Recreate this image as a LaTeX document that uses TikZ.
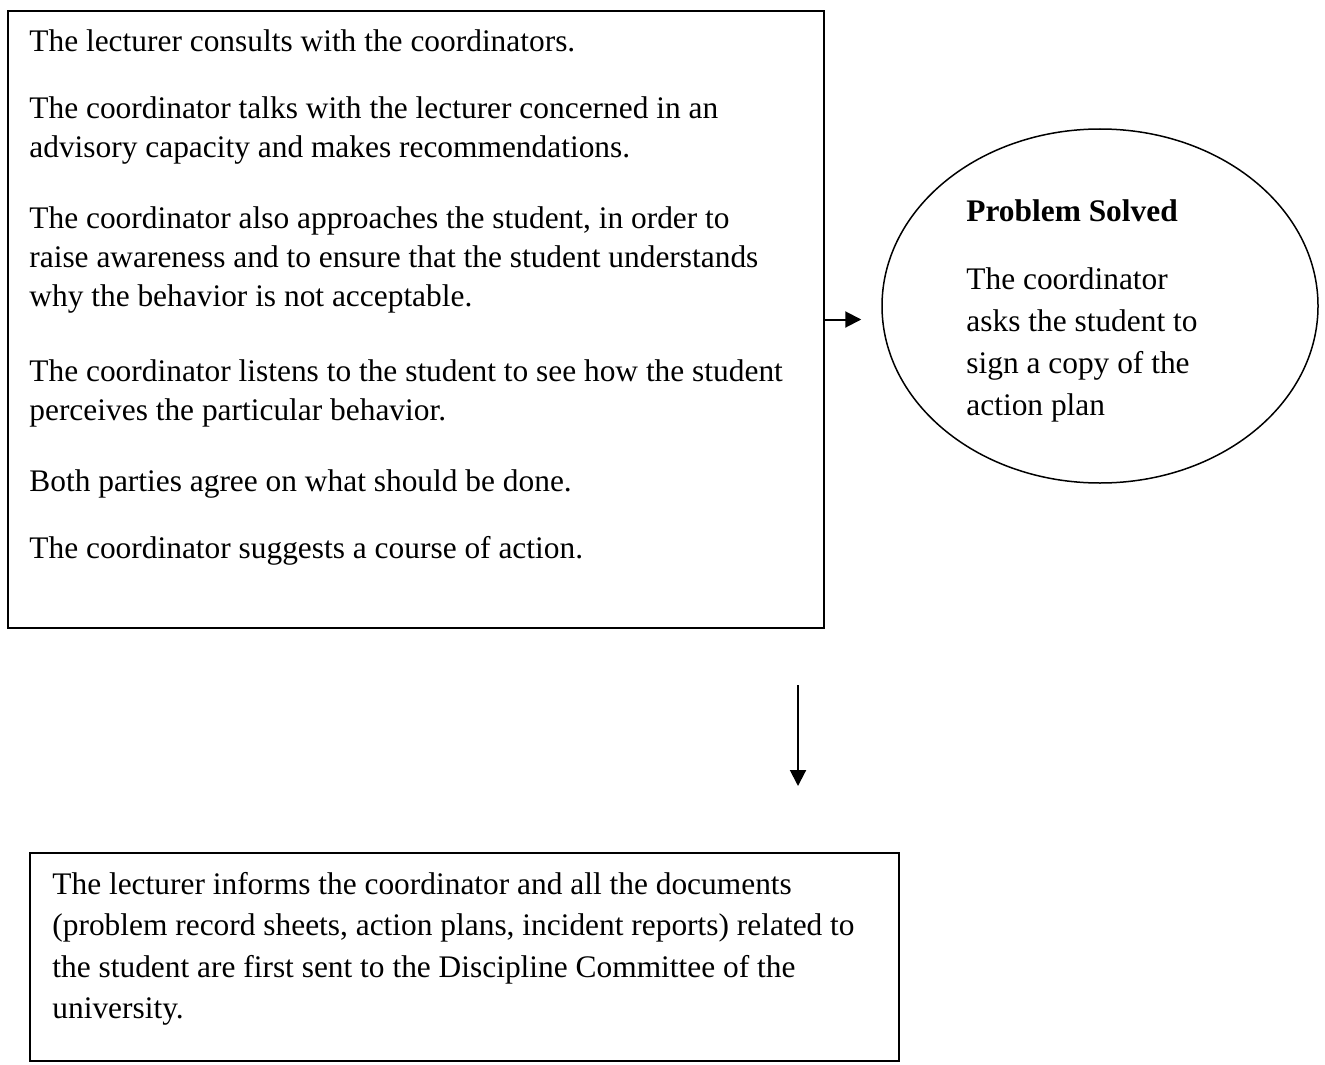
\documentclass[tikz,border=0pt]{standalone}
\usepackage{fontspec}
\setmainfont{Liberation Serif}
\usetikzlibrary{calc}
\usetikzlibrary{positioning}
\usetikzlibrary{shapes.geometric,arrows.meta}

\begin{document}
\begin{tikzpicture}[x=0.5pt, y=-0.5pt,
    flow/.style={line width=1pt, -{Triangle[width=8pt,length=8pt]}}]
  \useasboundingbox (0,0) rectangle (1325,1064);

  \begin{scope}[every node/.style={draw, line width=1pt, rectangle, inner sep=0pt, anchor=north west}]
    \node [minimum width=408pt, minimum height=308.5pt] (talk) at (7,10) {};
    \node [minimum width=434.5pt, minimum height=104pt] (refer) at (29,852) {};
  \end{scope}

  \node [draw, ellipse, line width=0.75pt, minimum width=218pt, minimum height=177pt, inner sep=0pt] (solved) at (1100,306) {};

  \begin{scope}[every node/.style={align=left, inner sep=0pt, anchor=north west}]
    \node [font=\fontsize{15.7}{19.5}\selectfont] (talktext) at ([shift={(22,19)}]talk.north west)
      {The lecturer consults with the coordinators.\\[14pt]
       The coordinator talks with the lecturer concerned in an\\
       advisory capacity and makes recommendations.\\[16pt]
       The coordinator also approaches the student, in order to\\
       raise awareness and to ensure that the student understands\\
       why the behavior is not acceptable.\\[18pt]
       The coordinator listens to the student to see how the student\\
       perceives the particular behavior.\\[16pt]
       Both parties agree on what should be done.\\[14pt]
       The coordinator suggests a course of action.};
    \node [font=\fontsize{15.7}{21}\selectfont] (solvedtext) at (966,199)
      {\textbf{Problem Solved}\\[13pt]
       The coordinator\\
       asks the student to\\
       sign a copy of the\\
       action plan};
    \node [font=\fontsize{15.7}{20.7}\selectfont] (refertext) at ([shift={(23,20)}]refer.north west)
      {The lecturer informs the coordinator and all the documents\\
       (problem record sheets, action plans, incident reports) related to\\
       the student are first sent to the Discipline Committee of the\\
       university.};
  \end{scope}

  \path (talk.east -| solved.west) ++(-20,0) coordinate (solvedin);
  \coordinate (drop) at (798,685);
  \coordinate (land) at (798,786);

  \draw [flow] (talk.east) -- (solvedin);
  \draw [flow] (drop) -- (land);

\end{tikzpicture}
\end{document}
